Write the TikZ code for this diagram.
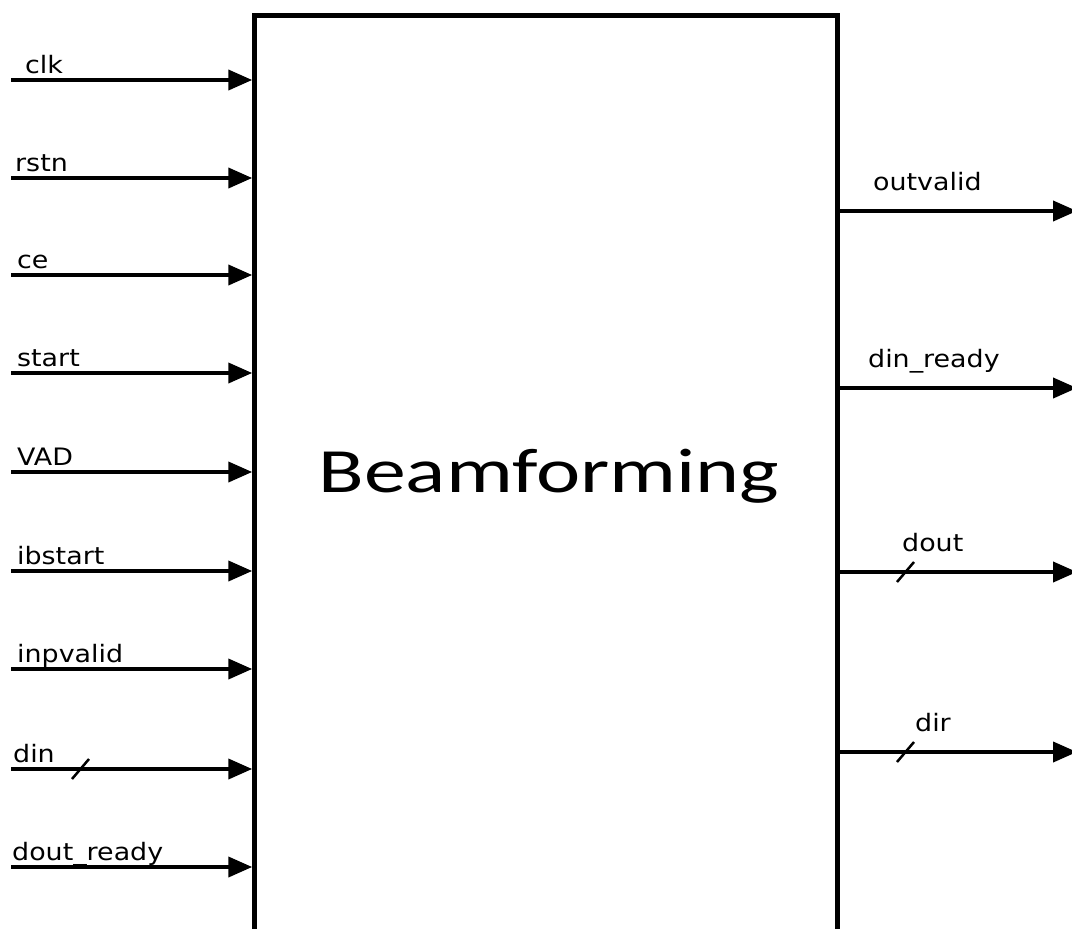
\documentclass[tikz,border=0pt]{standalone}
\usepackage{fontspec}
\usetikzlibrary{arrows.meta}
\newfontfamily\sigfont[FakeStretch=1.12]{DejaVu Sans}
\newfontfamily\titlefont[FakeStretch=1.33]{Carlito}
\tikzset{
  sig/.style={line width=4pt, -{Triangle[length=24pt,width=20pt]}},
  siglabel/.style={anchor=base west, inner sep=0pt, font=\sigfont\fontsize{24}{26}\selectfont},
  bus/.style={line width=2.5pt},
  block/.style={draw, line width=4.5pt, outer sep=2.25pt, inner sep=0pt,
    minimum width=583pt, minimum height=1000pt, anchor=north west}
}
\begin{document}
\begin{tikzpicture}[x=1pt, y=-1pt]
\useasboundingbox (0,0) rectangle (1072,929);

% the block itself; its bottom edge lies below the page
\node[block] (bf) at (252.25,13.25) {};
\node[font=\titlefont\fontsize{63}{70}\selectfont, anchor=base, inner sep=0pt] (title) at (549,492) {Beamforming};

% inputs
\foreach \name/\txt/\y/\lx in {
  clk/clk/80/25, rstn/rstn/178/15, ce/ce/275/17, start/start/373/17,
  vad/VAD/472/17, ibstart/ibstart/571/17, inpvalid/inpvalid/669/17,
  din/din/769/13, doutready/dout\_ready/867/12} {
  \coordinate (\name) at (11,\y);
  \draw[sig] (\name) -- (\name -| bf.west);
  \node[siglabel] (\name-lbl) at (\lx,\y-7) {\txt};
}

% outputs
\foreach \name/\txt/\y/\lx in {
  outvalid/outvalid/211/873, dinready/din\_ready/388/868,
  dout/dout/572/902, dir/dir/752/915} {
  \coordinate (\name) at (1077,\y);
  \draw[sig] (\name -| bf.east) -- (\name);
  \node[siglabel] (\name-lbl) at (\lx,\y-21) {\txt};
}

% bus width marks
\draw[bus] ([xshift=61pt,yshift=-10pt]din) -- ([xshift=78pt,yshift=10pt]din);
\draw[bus] ([xshift=-180pt,yshift=-10pt]dout) -- ([xshift=-163pt,yshift=10pt]dout);
\draw[bus] ([xshift=-180pt,yshift=-10pt]dir) -- ([xshift=-163pt,yshift=10pt]dir);
\end{tikzpicture}
\end{document}
